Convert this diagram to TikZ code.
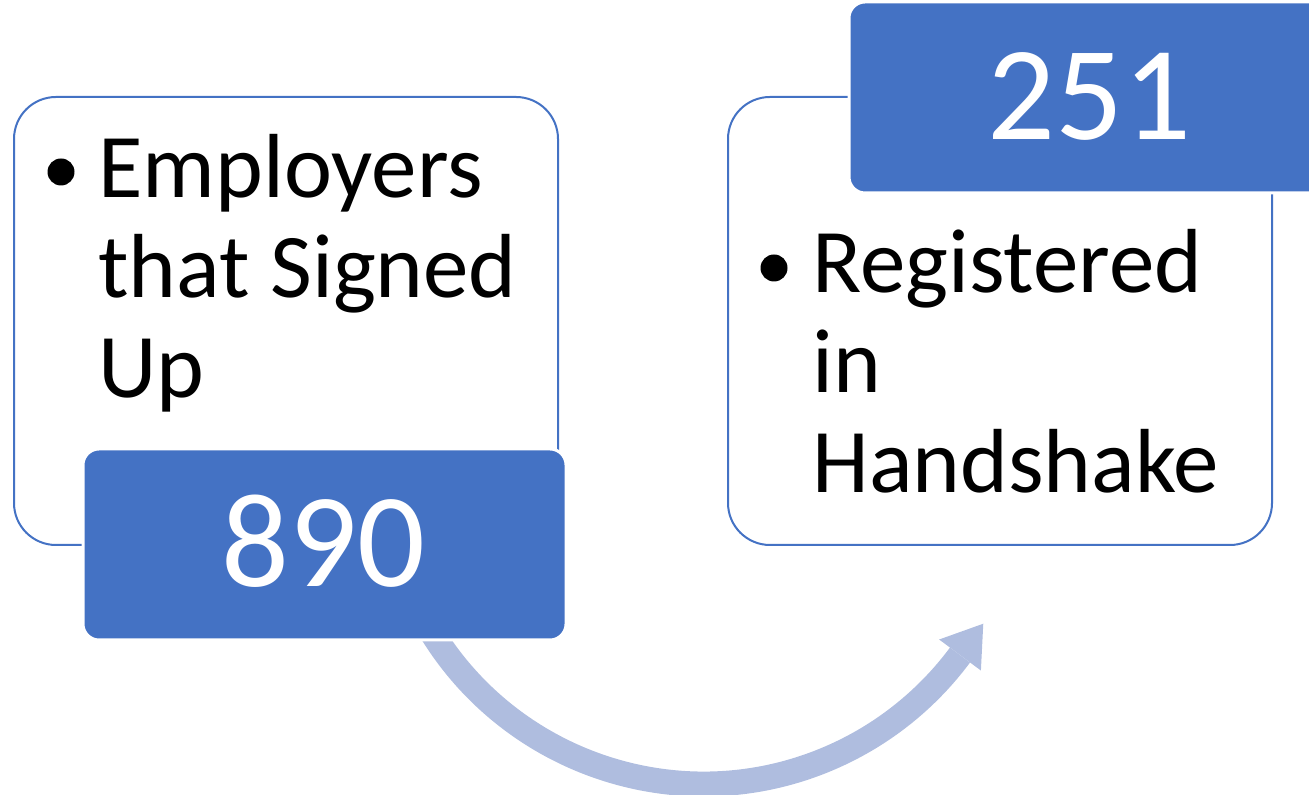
\documentclass[tikz,border=0pt]{standalone}
\usepackage{fontspec}
\newfontfamily\carlito{Carlito}
\definecolor{accent}{HTML}{4472C4}
\definecolor{arrowc}{HTML}{AFBDDF}
\begin{document}
\begin{tikzpicture}[x=0.5pt,y=0.5pt,
  whitebox/.style={draw=accent, line width=1pt, fill=white, rounded corners=21pt,
    minimum width=272pt, minimum height=224pt, inner sep=0pt, anchor=south west},
  numbox/.style={fill=accent, draw=white, line width=1.5pt, rounded corners=8pt,
    minimum width=241.5pt, minimum height=95.5pt, inner sep=0pt, anchor=south west},
  bodytext/.style={font=\carlito\fontsize{45.5}{50}\selectfont, align=left, inner sep=0pt, anchor=base west},
  numtext/.style={font=\carlito\fontsize{67}{75}\selectfont, text=white, inner sep=0pt, anchor=base},
  bulletdot/.style={circle, fill=black, inner sep=0pt, minimum size=13.5pt},
  band/.style={draw=arrowc, line width=12.5pt},
]
\useasboundingbox (0,0) rectangle (1309,795);
% white boxes
\node[whitebox] (leftbox) at (13,249) {};
\node[whitebox] (rightbox) at (727,249) {};
% curved arrow
\coordinate (c) at (703.6,330.4);
\draw[band] ([shift={(205:319.4)}]c) arc[start angle=205, end angle=323.4, radius=319.4];
\coordinate (B) at ([shift={(323.4:319.4)}]c);
\fill[arrowc] ([shift={(323.4:26)}]B) -- ([shift={(53.4:39)}]B) -- ([shift={(143.4:26)}]B) -- cycle;
% number boxes
\node[numbox] (leftnum) at (81.5,153.5) {};
\node[numbox] (rightnum) at (847.5,600.5) {};
\node[numtext] (n890) at (323,208) {890};
\node[numtext] (n251) at (1089,655) {251};
% bullets and text (anchor = baseline of the last line)
\node[bulletdot] (b1) at (61,623) {};
\node[bodytext] (t1) at (98,397) {Employers\\that Signed\\Up};
\node[bulletdot] (b2) at (774,527) {};
\node[bodytext] (t2) at (812,302) {Registered\\in\\Handshake};
\end{tikzpicture}
\end{document}
